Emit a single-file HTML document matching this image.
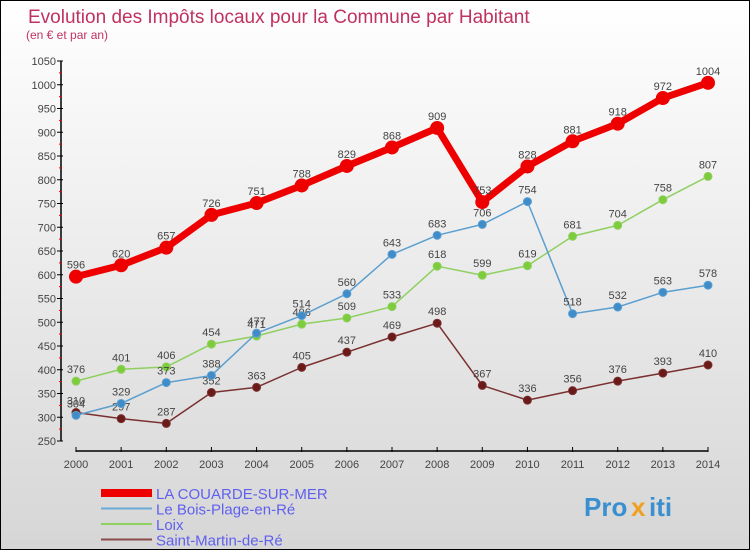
<!DOCTYPE html>
<html><head><meta charset="utf-8"><style>
body{margin:0}
#c{width:748px;height:548px;border:1px solid #000;background:linear-gradient(#fff,#d6d6d6);position:relative;font-family:"Liberation Sans",sans-serif;overflow:hidden}
</style></head><body>
<div id="c">
<svg id="s" width="748" height="548" xmlns="http://www.w3.org/2000/svg" style="position:absolute;left:0;top:0">
<text x="27" y="22" font-size="19" fill="#c0325f">Evolution des Impôts locaux pour la Commune par Habitant</text>
<text x="25" y="38" font-size="12" fill="#c0325f">(en € et par an)</text>
<g id="axes"></g><g id="series"></g><g id="legend"></g>
<g font-size="26" font-weight="bold">
<text x="583" y="515" fill="#3a8fd0">Pro</text><text x="630" y="515" fill="#f0a020">x</text><text x="648" y="515" fill="#3a8fd0">iti</text></g>
</svg></div>
<script>
const years=[2000,2001,2002,2003,2004,2005,2006,2007,2008,2009,2010,2011,2012,2013,2014];
const yTicks=[250,300,350,400,450,500,550,600,650,700,750,800,850,900,950,1000,1050];
const couarde=[596,620,657,726,751,788,829,868,909,753,828,881,918,972,1004];
const boisPlage=[304,329,373,388,477,514,560,643,683,706,754,518,532,563,578];
const loix=[376,401,406,454,471,496,509,533,618,599,619,681,704,758,807];
const stMartin=[310,297,287,352,363,405,437,469,498,367,336,356,376,393,410];
const NS="http://www.w3.org/2000/svg";
const X=i=>75+i*(632/14);
const Y=v=>440-(v-250)*0.475;
function mk(t,a,p){const e=document.createElementNS(NS,t);for(const k in a)e.setAttribute(k,a[k]);p.appendChild(e);return e;}
const ax=document.getElementById('axes');
const yl=mk('line',{x1:60,y1:Y(1050),x2:60,y2:Y(250),stroke:'#000','stroke-width':1.5},ax);


const xl=mk('line',{x1:X(0),y1:450,x2:X(14),y2:450,stroke:'#000','stroke-width':1.5},ax);


yTicks.forEach((v,i)=>{
 mk('line',{x1:56,y1:Y(v),x2:62,y2:Y(v),stroke:'#000'},ax);
 if(i<yTicks.length-1)mk('line',{x1:58,y1:Y(v+25),x2:61,y2:Y(v+25),stroke:'#e00'},ax);
 const t=mk('text',{x:55,y:Y(v)+4,'font-size':11,fill:'#444','text-anchor':'end'},ax);t.textContent=v;
 
 
});
years.forEach((y,i)=>{
 mk('line',{x1:X(i),y1:446,x2:X(i),y2:451,stroke:'#000'},ax);
 const t=mk('text',{x:X(i),y:467,'font-size':11,fill:'#444','text-anchor':'middle'},ax);t.textContent=y;
 
 
});
const sg=document.getElementById('series');
function series(data,color,dot,w,r,name){
 const g=mk('g',{},sg);
 
 
 mk('polyline',{points:data.map((v,i)=>X(i)+','+Y(v)).join(' '),fill:'none',stroke:color,'stroke-width':w,'stroke-linejoin':'round'},g);
 data.forEach((v,i)=>{
  const c=mk('circle',{cx:X(i),cy:Y(v),r:r,fill:dot,stroke:color,'stroke-width':1},g);
  
  
  const t=mk('text',{x:X(i),y:Y(v)-8,'font-size':11,fill:'#444','text-anchor':'middle'},g);t.textContent=v;
  
  
 });
}
series(stMartin,'#7a3030','#6b1a1a',1.5,4,'series-saint-martin');
series(loix,'#8fd060','#7ccc3c',1.5,4,'series-loix');
series(boisPlage,'#5a9fd0','#3f8cc8',1.5,4,'series-bois-plage');
series(couarde,'#ee0000','#ee0000',7,6.5,'series-la-couarde');
const lg=document.getElementById('legend');
const L=[['LA COUARDE-SUR-MER','#ee0000',8],['Le Bois-Plage-en-Ré','#6aaad8',2],['Loix','#8fd060',2],['Saint-Martin-de-Ré','#8a4a4a',2]];
L.forEach((l,i)=>{
 const y=492+i*15.5;
 const ln=mk('line',{x1:100,y1:y,x2:151,y2:y,stroke:l[1],'stroke-width':l[2]},lg);
 
 
 const t=mk('text',{x:155,y:y+6,'font-size':15,fill:'#6060ee'},lg);t.textContent=l[0];
 
 
});
</script></body></html>
